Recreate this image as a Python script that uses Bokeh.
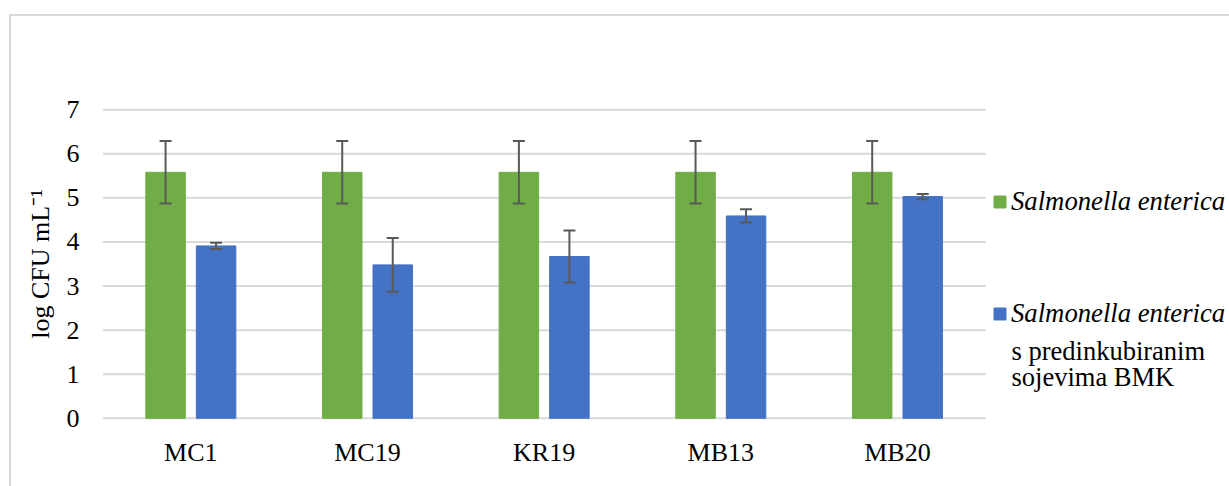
from bokeh.plotting import figure
from bokeh.models import (ColumnDataSource, Range1d, FixedTicker, Whisker,
                          TeeHead, Legend, LegendItem, Label)
from bokeh.embed import file_html
from bokeh.resources import INLINE

categories = ["MC1", "MC19", "KR19", "MB13", "MB20"]
salmonella = [5.58, 5.58, 5.58, 5.58, 5.58]
salmonella_err = [0.71, 0.71, 0.71, 0.71, 0.71]
preinc = [3.91, 3.48, 3.67, 4.59, 5.03]
preinc_err = [0.07, 0.61, 0.59, 0.15, 0.06]
y_ticks = [0, 1, 2, 3, 4, 5, 6, 7]
legend_labels = ["Salmonella enterica", "Salmonella enterica"]
legend_extra = ["s predinkubiranim", "sojevima BMK"]

GREEN = "#70AD47"
BLUE = "#4472C4"
GRID = "#D9D9D9"
FONT = "Liberation Serif"

# layout (canvas pixels)
WIDTH, HEIGHT = 1229, 486
F_LEFT, F_TOP, F_BOTTOM = 102, 107, 420
CAT_PX = 176.66
n = len(categories)
x_end = (WIDTH - F_LEFT) / CAT_PX
y0, y1 = -0.05, 7.05
PX_Y = (F_BOTTOM - F_TOP) / (y1 - y0)

def px2x(px):
    return (px - F_LEFT) / CAT_PX

def px2y(py):
    return y0 + (F_BOTTOM - py) / PX_Y

OFF = 0.143
W = 0.2235
centers = [i + 0.5 for i in range(n)]

src = ColumnDataSource(dict(
    gx=[c - OFF for c in centers],
    bx=[c + OFF for c in centers],
    g=salmonella,
    gu=[v + e for v, e in zip(salmonella, salmonella_err)],
    gl=[v - e for v, e in zip(salmonella, salmonella_err)],
    b=preinc,
    bu=[v + e for v, e in zip(preinc, preinc_err)],
    bl=[v - e for v, e in zip(preinc, preinc_err)],
))

p = figure(width=WIDTH, height=HEIGHT, x_range=Range1d(0, x_end),
           y_range=Range1d(y0, y1), output_backend="svg", toolbar_location=None,
           min_border_left=F_LEFT, min_border_right=0, min_border_top=F_TOP,
           min_border_bottom=HEIGHT - F_BOTTOM)
p.outline_line_color = None
p.background_fill_color = "white"
p.border_fill_alpha = 0
p.styles = {
    "background": ("linear-gradient(#D9D9D9,#D9D9D9) 9px 14px / 2px 2000px no-repeat, "
                   "linear-gradient(#D9D9D9,#D9D9D9) 9px 14px / 2000px 2px no-repeat, #FFFFFF")
}

# horizontal grid lines, spanning the category area only
p.segment(x0=[0] * len(y_ticks), x1=[n] * len(y_ticks), y0=y_ticks, y1=y_ticks,
          line_color=GRID, line_width=2)

rg = p.vbar(x="gx", top="g", width=W, source=src, fill_color=GREEN, line_color=GREEN)
rb = p.vbar(x="bx", top="b", width=W, source=src, fill_color=BLUE, line_color=BLUE)

for base, up, lo in [("gx", "gu", "gl"), ("bx", "bu", "bl")]:
    w = Whisker(base=base, upper=up, lower=lo, source=src, level="overlay",
                line_color="#595959", line_width=2,
                upper_head=TeeHead(size=12, line_color="#595959", line_width=2),
                lower_head=TeeHead(size=12, line_color="#595959", line_width=2))
    p.add_layout(w)

# axes
p.yaxis.ticker = FixedTicker(ticks=y_ticks)
p.yaxis.axis_line_color = None
p.yaxis.major_tick_line_color = None
p.yaxis.minor_tick_line_color = None
p.yaxis.major_label_text_font = FONT
p.yaxis.major_label_text_font_size = "26px"
p.yaxis.major_label_text_color = "black"
p.yaxis.major_label_standoff = 17
p.yaxis.axis_label = "log CFU mL\u207b\u00b9"
p.yaxis.axis_label_text_font = FONT
p.yaxis.axis_label_text_font_size = "26px"
p.yaxis.axis_label_text_font_style = "normal"
p.yaxis.axis_label_text_color = "black"
p.yaxis.axis_label_standoff = 9

p.xaxis.ticker = FixedTicker(ticks=centers)
p.xaxis.major_label_overrides = {c: lab for c, lab in zip(centers, categories)}
p.xaxis.axis_line_color = None
p.xaxis.major_tick_line_color = None
p.xaxis.minor_tick_line_color = None
p.xaxis.major_label_text_font = FONT
p.xaxis.major_label_text_font_size = "26px"
p.xaxis.major_label_text_color = "black"
p.xaxis.major_label_standoff = 11

p.xgrid.grid_line_color = None
p.ygrid.grid_line_color = None

# legend
legend = Legend(items=[LegendItem(label=legend_labels[0], renderers=[rg]),
                       LegendItem(label=legend_labels[1], renderers=[rb])],
                location=(890, 91), orientation="vertical",
                label_text_font=FONT, label_text_font_size="26.7px",
                label_text_font_style="italic", label_text_color="black",
                glyph_width=15, glyph_height=15, label_height=32, spacing=80,
                label_standoff=4, padding=0, margin=0,
                border_line_color=None, background_fill_alpha=0)
p.add_layout(legend)

for txt, py in zip(legend_extra, [350.0, 376.5]):
    p.add_layout(Label(x=px2x(1011), y=px2y(py), text=txt,
                       text_font=FONT, text_font_size="26.5px", text_color="black",
                       text_baseline="alphabetic"))

open("out.html", "w").write(file_html(p, INLINE))
